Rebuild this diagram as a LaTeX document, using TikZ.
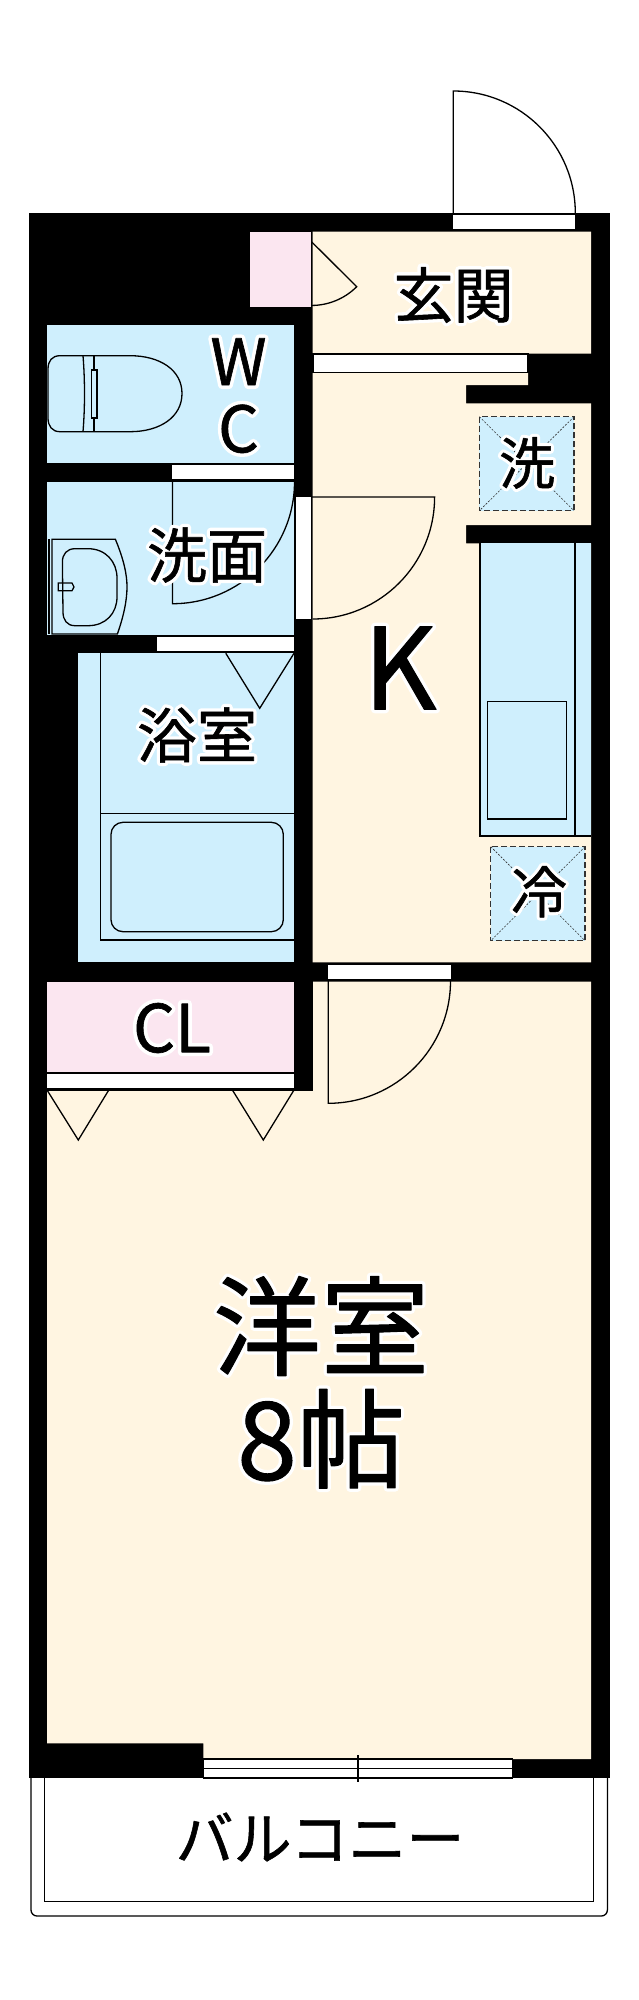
\documentclass[tikz,border=0pt]{standalone}
\usepackage{fontspec}
\usetikzlibrary{positioning}
\newfontfamily\jpfont[FakeBold=1]{Noto Sans CJK JP}
\newfontfamily\jphalo[FakeBold=12]{Noto Sans CJK JP}
\newfontfamily\jphalobig[FakeBold=7]{Noto Sans CJK JP}
\definecolor{floorcream}{HTML}{FFF5E1}
\definecolor{wetblue}{HTML}{CFEFFD}
\definecolor{closetpink}{HTML}{FBE6F0}
\tikzset{
	line/.style={draw=black, line width=1.3pt},
	panline/.style={draw=black!80, line width=1.2pt, dash pattern=on 6pt off 3pt},
	pancross/.style={draw=black!80, line width=.6pt, dash pattern=on 2pt off 1.5pt},
	opening/.style={fill=white, draw=none},
	lbl/.style={inner sep=0pt, line join=round, font=\jpfont\fontsize{#1}{#1}\selectfont},
}
\newcommand{\halo}[1]{\rlap{\color{white}\jphalo #1}#1}
\newcommand{\halobig}[1]{\rlap{\color{white}\jphalobig #1}#1}

\begin{document}
\begin{tikzpicture}[x=1pt, y=-1pt]
	\useasboundingbox (0,0) rectangle (639,2000);

	\fill[black] (28.5,213) rectangle (609.5,1777.5);

	\fill[floorcream] (312.7,231.7) -- (591,231.7) -- (591,353.5) -- (528,353.5) -- (528,385)
		-- (466,385) -- (466,403.3) -- (591,403.3) -- (591,525) -- (466,525) -- (466,543.3)
		-- (591,543.3) -- (591,962.3) -- (312.7,962.3) -- cycle;
	\fill[floorcream] (47,981.7) -- (591,981.7) -- (591,1759) -- (203.4,1759) -- (203.4,1743.3)
		-- (47,1743.3) -- cycle;
	\fill[black] (47,981) rectangle (312.7,1090.7);
	\fill[closetpink] (47,981.7) rectangle (294,1072);
	\fill[closetpink] (250.3,231.7) rectangle (311.5,306.7);
	\fill[wetblue] (47,325) rectangle (294,462.7);
	\fill[wetblue] (47,481.7) rectangle (294,635);
	\fill[wetblue] (78.3,653.3) rectangle (294,962.3);
	\fill[wetblue] (480,543.3) rectangle (591,836);

	\fill[opening] (453.3,215) rectangle (575.2,229.3);
	\fill[opening] (156.5,636.7) rectangle (294,651);
	\fill[opening] (172,465) rectangle (294,479.3);
	\fill[opening] (296,497.3) rectangle (311,619);
	\fill[opening] (328.2,964.7) rectangle (450.5,979.3);
	\fill[opening] (47,1074) rectangle (294,1088.3);
	\draw[line, fill=white] (313,354) rectangle (528,372.3);
	\draw[line, fill=white] (203.4,1759) rectangle (512.8,1778);
	\draw[line] (203.4,1768.5) -- (512.8,1768.5);
	\draw[line] (358,1755) -- (358,1781.7);

	\draw[line] (453.3,213) -- (453.3,91) arc[start angle=90, end angle=0, radius=122pt];
	\draw[line] (311.5,231.7) -- (311.5,306.7);
	\draw[line] (311.5,241.7) -- (356.7,286.7) arc[start angle=-45, end angle=-90, radius=64pt];
	\draw[line] (172.5,481.7) -- (172.5,603.7) arc[start angle=-90, end angle=0, radius=122pt];
	\draw[line] (312,497) -- (434.6,497) arc[start angle=0, end angle=-90, radius=122pt];
	\draw[line] (328.2,981) -- (328.2,1103.3) arc[start angle=-90, end angle=0, radius=122.3pt];

	\draw[line] (225.8,653.3) -- (259.7,708.3) -- (294,653.3);
	\draw[line] (47,1090) -- (78.3,1140) -- (108.8,1090);
	\draw[line] (232.4,1090) -- (263.3,1140) -- (294,1090);

	\draw[line] (100.3,653.3) -- (100.3,813.3);
	\draw[line] (294,813.3) -- (100.3,813.3) -- (100.3,940) -- (294,940);
	\draw[line, rounded corners=12pt] (111,822.3) rectangle (283.3,931.7);

	\draw[line] (480,543.3) -- (480,836) -- (591,836);
	\draw[line] (575,543.3) -- (575,836);
	\draw[line] (487.6,701.3) rectangle (566.3,819);

	\draw[line] (60,355.7) -- (130,355.7) .. controls (160,355.7) and (182,370) .. (182,393.5)
		.. controls (182,417) and (160,431.7) .. (130,431.7) -- (60,431.7)
		.. controls (52,431.7) and (48,426) .. (48,418) -- (48,369)
		.. controls (48,361) and (52,355.7) .. (60,355.7) -- cycle;
	\draw[line] (83,355.7) .. controls (85,380) and (85,408) .. (83,431.7);
	\draw[line] (94,355.7) -- (94,370) (94,418) -- (94,431.7);
	\draw[line] (91.3,370) rectangle (97,418);

	\draw[line] (49,539.3) -- (49,634);
	\draw[line] (52,539.3) -- (115.4,539.3) .. controls (124,560) and (127,575) .. (127,586.7)
		.. controls (127,600) and (124,615) .. (117.4,634) -- (52,634) -- cycle;
	\draw[line] (75,548.7) -- (88,548.7) .. controls (106,548.7) and (117,562) .. (117,578)
		-- (117,597) .. controls (117,613) and (106,625.7) .. (88,625.7) -- (75,625.7)
		.. controls (67,625.7) and (63,620) .. (63,612) -- (62.4,562)
		.. controls (62.4,554) and (67,548.7) .. (75,548.7) -- cycle;
	\draw[line] (58.3,583) -- (72,583) -- (74,587) -- (72,590.7) -- (58.3,590.7) -- cycle;

	\fill[wetblue] (479.4,416.7) rectangle (574,510.7);
	\draw[pancross] (479.4,416.7) -- (574,510.7) (574,416.7) -- (479.4,510.7);
	\draw[panline] (479.4,416.7) rectangle (574,510.7);
	\fill[wetblue] (490.8,846.7) rectangle (585,940.7);
	\draw[pancross] (490.8,846.7) -- (585,940.7) (585,846.7) -- (490.8,940.7);
	\draw[panline] (490.8,846.7) rectangle (585,940.7);

	\draw[line, rounded corners=6pt] (31,1777.5) -- (31,1916) -- (607.4,1916) -- (607.4,1777.5);
	\draw[line] (44.8,1777.5) -- (44.8,1901.7) -- (593.6,1901.7) -- (593.6,1777.5);

	\node[lbl=60] (genkan) at (453.5,295) {\halo{玄関}};
	\node[lbl=64] (w) at (238.5,361.7) {\halo{W}};
	\node[lbl=64, below=19pt of w] (c) {\halo{C}};
	\node[lbl=56] (sen) at (527,463) {\halo{洗}};
	\node[lbl=60] (senmen) at (207,555) {\halo{洗面}};
	\node[lbl=113] (kitchen) at (400,668) {\halobig{K}};
	\node[lbl=60] (yokushitsu) at (197,735) {\halo{浴室}};
	\node[lbl=56] (rei) at (539,891.7) {\halo{冷}};
	\node[lbl=66] (cl) at (172,1028) {\halo{CL}};
	\node[lbl=108] (youshitsu) at (321,1326) {\halobig{洋室}};
	\node[lbl=108, below=13pt of youshitsu] (hachijo) {\halobig{8帖}};
	\node[lbl=58] (balcony) at (320,1837) {バルコニー};
\end{tikzpicture}
\end{document}
